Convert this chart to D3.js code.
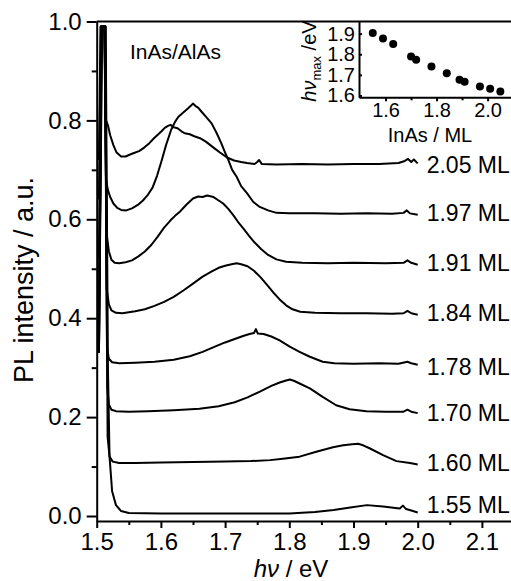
<!DOCTYPE html>
<html>
<head>
<meta charset="utf-8">
<script src="https://cdn.jsdelivr.net/npm/d3@7"></script>
<style>
  body { margin: 0; background: #fff; }
  svg { display: block; }
  text { font-family: "Liberation Sans", Arial, sans-serif; fill: #000; }
</style>
</head>
<body>
<svg id="chart" width="511" height="581"></svg>
<script>
// PL spectra, [photon energy eV, intensity a.u.]
const ml155 = [[1.5035,0.33],[1.5085,0.99],[1.514,0.99],[1.5175,0.30],[1.520,0.12],[1.524,0.05],[1.53,0.022],[1.538,0.010],[1.55,0.006],[1.60,0.005],[1.65,0.005],[1.70,0.005],[1.75,0.005],[1.80,0.005],[1.84,0.008],[1.869,0.012],[1.895,0.017],[1.921,0.022],[1.946,0.019],[1.972,0.015],[1.977,0.021],[1.982,0.014],[1.99,0.011],[2.0,0.007]];
const ml160 = [[1.5035,0.33],[1.508,0.99],[1.5135,0.99],[1.517,0.16],[1.520,0.12],[1.525,0.110],[1.535,0.107],[1.56,0.107],[1.60,0.108],[1.65,0.109],[1.70,0.110],[1.74,0.111],[1.77,0.113],[1.79,0.116],[1.816,0.120],[1.842,0.130],[1.868,0.139],[1.884,0.143],[1.898,0.145],[1.907,0.146],[1.915,0.143],[1.925,0.137],[1.946,0.123],[1.967,0.111],[1.988,0.107],[2.0,0.104]];
const ml170 = [[1.5035,0.33],[1.5075,0.99],[1.513,0.99],[1.5165,0.26],[1.519,0.225],[1.523,0.215],[1.53,0.212],[1.55,0.211],[1.58,0.212],[1.62,0.214],[1.66,0.217],[1.69,0.222],[1.715,0.230],[1.735,0.240],[1.755,0.252],[1.772,0.263],[1.785,0.270],[1.795,0.274],[1.801,0.276],[1.808,0.273],[1.816,0.268],[1.832,0.258],[1.852,0.241],[1.873,0.224],[1.894,0.216],[1.92,0.212],[1.95,0.211],[1.978,0.211],[1.984,0.215],[1.99,0.211],[2.0,0.208]];
const ml178 = [[1.5035,0.34],[1.5075,0.99],[1.513,0.99],[1.516,0.34],[1.519,0.318],[1.524,0.311],[1.535,0.309],[1.56,0.310],[1.59,0.312],[1.62,0.316],[1.645,0.323],[1.665,0.332],[1.685,0.343],[1.70,0.351],[1.715,0.358],[1.728,0.364],[1.738,0.368],[1.745,0.370],[1.748,0.378],[1.751,0.369],[1.76,0.368],[1.772,0.363],[1.785,0.355],[1.80,0.343],[1.816,0.332],[1.832,0.322],[1.852,0.312],[1.87,0.309],[1.90,0.308],[1.94,0.309],[1.97,0.308],[1.984,0.312],[1.99,0.309],[2.0,0.306]];
const ml184 = [[1.5035,0.42],[1.507,0.99],[1.5125,0.99],[1.5155,0.46],[1.519,0.428],[1.523,0.416],[1.53,0.411],[1.54,0.410],[1.55,0.412],[1.56,0.414],[1.575,0.418],[1.59,0.425],[1.605,0.433],[1.62,0.443],[1.635,0.456],[1.65,0.470],[1.665,0.484],[1.68,0.495],[1.69,0.502],[1.70,0.506],[1.71,0.509],[1.718,0.511],[1.725,0.509],[1.735,0.505],[1.745,0.496],[1.755,0.483],[1.765,0.468],[1.775,0.452],[1.785,0.438],[1.795,0.426],[1.805,0.418],[1.817,0.413],[1.84,0.411],[1.88,0.410],[1.92,0.410],[1.96,0.409],[1.978,0.410],[1.984,0.415],[1.99,0.410],[2.0,0.407]];
const ml191 = [[1.5035,0.52],[1.507,0.99],[1.5125,0.99],[1.5155,0.57],[1.519,0.535],[1.523,0.518],[1.528,0.512],[1.535,0.511],[1.545,0.513],[1.555,0.517],[1.565,0.525],[1.575,0.535],[1.585,0.548],[1.595,0.565],[1.605,0.583],[1.615,0.598],[1.622,0.607],[1.63,0.616],[1.64,0.630],[1.65,0.642],[1.658,0.646],[1.665,0.645],[1.672,0.648],[1.682,0.645],[1.69,0.638],[1.697,0.632],[1.705,0.621],[1.713,0.608],[1.72,0.595],[1.728,0.582],[1.737,0.567],[1.746,0.553],[1.756,0.540],[1.767,0.528],[1.78,0.519],[1.795,0.514],[1.82,0.512],[1.86,0.511],[1.90,0.512],[1.95,0.511],[1.978,0.512],[1.984,0.517],[1.99,0.512],[2.0,0.508]];
const ml197 = [[1.5035,0.64],[1.5065,0.99],[1.512,0.99],[1.5145,0.68],[1.5175,0.659],[1.521,0.645],[1.526,0.632],[1.532,0.623],[1.538,0.619],[1.546,0.618],[1.555,0.622],[1.564,0.629],[1.572,0.638],[1.58,0.650],[1.587,0.664],[1.594,0.688],[1.601,0.718],[1.608,0.750],[1.616,0.781],[1.622,0.797],[1.627,0.807],[1.634,0.815],[1.642,0.824],[1.647,0.830],[1.65,0.834],[1.654,0.829],[1.658,0.826],[1.663,0.818],[1.671,0.806],[1.679,0.794],[1.687,0.774],[1.694,0.754],[1.70,0.735],[1.705,0.720],[1.711,0.700],[1.718,0.686],[1.725,0.667],[1.734,0.653],[1.744,0.635],[1.754,0.625],[1.767,0.618],[1.78,0.613],[1.80,0.612],[1.84,0.612],[1.88,0.611],[1.92,0.612],[1.96,0.611],[1.978,0.613],[1.983,0.618],[1.988,0.612],[2.0,0.609]];
const ml205 = [[1.5035,0.72],[1.506,0.99],[1.5115,0.99],[1.5145,0.80],[1.5175,0.79],[1.521,0.77],[1.526,0.75],[1.531,0.735],[1.538,0.727],[1.545,0.727],[1.552,0.731],[1.558,0.734],[1.566,0.738],[1.574,0.745],[1.582,0.754],[1.59,0.765],[1.596,0.772],[1.601,0.778],[1.606,0.785],[1.611,0.789],[1.615,0.791],[1.62,0.786],[1.626,0.784],[1.632,0.778],[1.637,0.774],[1.645,0.772],[1.652,0.768],[1.661,0.764],[1.67,0.757],[1.682,0.745],[1.692,0.735],[1.703,0.725],[1.714,0.719],[1.725,0.716],[1.734,0.714],[1.746,0.712],[1.75,0.716],[1.753,0.720],[1.757,0.712],[1.78,0.711],[1.82,0.712],[1.86,0.711],[1.90,0.712],[1.94,0.712],[1.97,0.714],[1.98,0.718],[1.985,0.722],[1.99,0.716],[1.994,0.721],[2.0,0.713]];

const spectra = [ml155, ml160, ml170, ml178, ml184, ml191, ml197, ml205];
const mlLabels = ['1.55 ML', '1.60 ML', '1.70 ML', '1.78 ML', '1.84 ML', '1.91 ML', '1.97 ML', '2.05 ML'];
const labelLevels = [0.022, 0.107, 0.208, 0.301, 0.411, 0.512, 0.613, 0.710];

// inset: peak energy vs InAs thickness
const insetML = [1.55, 1.59, 1.63, 1.70, 1.72, 1.78, 1.84, 1.89, 1.91, 1.97, 2.01, 2.05];
const insetPeak = [1.903, 1.876, 1.850, 1.789, 1.773, 1.740, 1.708, 1.676, 1.667, 1.643, 1.633, 1.619];

const xTicks = [1.5, 1.6, 1.7, 1.8, 1.9, 2.0, 2.1];
const xMinor = [1.55, 1.65, 1.75, 1.85, 1.95, 2.05];
const yTicks = [0.0, 0.2, 0.4, 0.6, 0.8, 1.0];
const yMinor = [0.1, 0.3, 0.5, 0.7, 0.9];
const insetXTicks = [1.6, 1.8, 2.0];
const insetXMinor = [1.7, 1.9];
const insetYTicks = [1.6, 1.7, 1.8, 1.9];

const svg = d3.select('#chart');
const x = d3.scaleLinear().domain([1.5, 2.15]).range([96.7, 514]);
const y = d3.scaleLinear().domain([-0.0101, 1.0]).range([521, 21.5]);
const fmt = d3.format('.1f');

function styleAxis(g, size) {
    g.selectAll('path, line').attr('stroke', '#000').attr('stroke-width', 2);
    g.selectAll('text').attr('font-size', size).attr('fill', '#000')
        .attr('font-family', '"Liberation Sans", Arial, sans-serif');
}

// main axes
const gx = svg.append('g').attr('transform', `translate(0,${y.range()[0]})`)
    .call(d3.axisBottom(x).tickValues(xTicks).tickFormat(fmt).tickSize(7).tickPadding(5).tickSizeOuter(0));
styleAxis(gx, 24);
const gxm = svg.append('g').attr('transform', `translate(0,${y.range()[0]})`)
    .call(d3.axisBottom(x).tickValues(xMinor).tickFormat('').tickSize(4));
gxm.select('.domain').remove();
styleAxis(gxm, 24);

const gy = svg.append('g').attr('transform', `translate(${x.range()[0]},0)`)
    .call(d3.axisLeft(y).tickValues(yTicks).tickFormat(fmt).tickSize(10).tickPadding(5).tickSizeOuter(0));
styleAxis(gy, 24);
const gym = svg.append('g').attr('transform', `translate(${x.range()[0]},0)`)
    .call(d3.axisLeft(y).tickValues(yMinor).tickFormat('').tickSize(5));
gym.select('.domain').remove();
styleAxis(gym, 24);

// top frame line
svg.append('line')
    .attr('x1', x(1.5)).attr('x2', 520).attr('y1', y(1.0)).attr('y2', y(1.0))
    .attr('stroke', '#000').attr('stroke-width', 2);

// spectra
const line = d3.line().x(d => x(d[0])).y(d => y(d[1]));
svg.append('g').selectAll('path')
    .data(spectra)
    .enter()
    .append('path')
    .attr('d', line)
    .attr('fill', 'none')
    .attr('stroke', '#000')
    .attr('stroke-width', 2)
    .attr('stroke-linejoin', 'round');

svg.append('g').selectAll('text')
    .data(mlLabels)
    .enter()
    .append('text')
    .attr('x', x(2.0) + 9)
    .attr('y', (d, i) => y(labelLevels[i]))
    .attr('dy', '0.35em')
    .attr('font-size', 23)
    .text(d => d);

svg.append('text').attr('x', 130).attr('y', 59).attr('font-size', 21).text('InAs/AlAs');

// axis titles
svg.append('text')
    .attr('transform', 'translate(33,280) rotate(-90)')
    .attr('text-anchor', 'middle')
    .attr('font-size', 27)
    .text('PL intensity / a.u.');

const xt = svg.append('text').attr('x', 291).attr('y', 577).attr('text-anchor', 'middle').attr('font-size', 24);
xt.append('tspan').attr('font-style', 'italic').text('hν');
xt.append('tspan').text(' / eV');

// inset
const ix = d3.scaleLinear().domain([1.496, 2.127]).range([359, 520]);
const iy = d3.scaleLinear().domain([1.591, 1.959]).range([97.3, 21.5]);

const ig = svg.append('g');
const igx = ig.append('g').attr('transform', `translate(0,${iy.range()[0]})`)
    .call(d3.axisBottom(ix).tickValues(insetXTicks).tickFormat(fmt).tickSize(4).tickPadding(2).tickSizeOuter(0));
styleAxis(igx, 20);
const igxm = ig.append('g').attr('transform', `translate(0,${iy.range()[0]})`)
    .call(d3.axisBottom(ix).tickValues(insetXMinor).tickFormat('').tickSize(3));
igxm.select('.domain').remove();
styleAxis(igxm, 20);
const igy = ig.append('g').attr('transform', `translate(${ix.range()[0]},0)`)
    .call(d3.axisLeft(iy).tickValues(insetYTicks).tickFormat(fmt).tickSize(-3).tickPadding(4).tickSizeOuter(0));
styleAxis(igy, 20);

ig.selectAll('circle')
    .data(insetML)
    .enter()
    .append('circle')
    .attr('cx', d => ix(d))
    .attr('cy', (d, i) => iy(insetPeak[i]))
    .attr('r', 4)
    .attr('fill', '#000');

ig.append('text').attr('x', 430).attr('y', 142).attr('text-anchor', 'middle').attr('font-size', 20).text('InAs / ML');

const iyt = ig.append('text')
    .attr('transform', 'translate(316,61) rotate(-90)')
    .attr('text-anchor', 'middle')
    .attr('font-size', 20);
iyt.append('tspan').attr('font-style', 'italic').text('hν');
iyt.append('tspan').attr('font-size', 13).attr('dy', 5).text('max');
iyt.append('tspan').attr('dy', -5).text(' /eV');
</script>
</body>
</html>
